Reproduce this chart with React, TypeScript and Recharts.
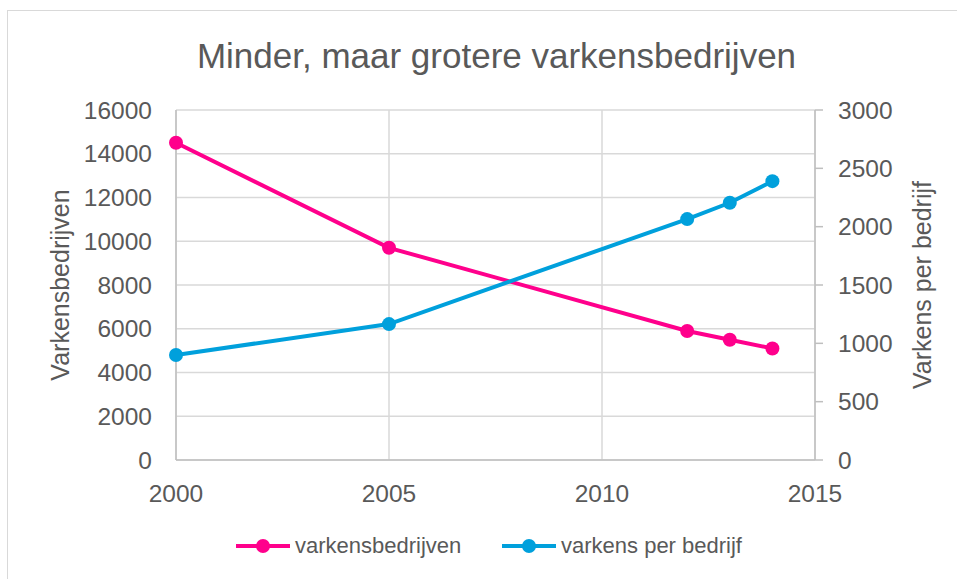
import { LineChart, Line, XAxis, YAxis, CartesianGrid } from "recharts";

const years = [2000, 2005, 2012, 2013, 2014];
const varkensbedrijven = [14500, 9700, 5900, 5500, 5100];
const varkensPerBedrijf = [900, 1165, 2065, 2205, 2390];

const xTicks = [2000, 2005, 2010, 2015];
const leftTicks = [0, 2000, 4000, 6000, 8000, 10000, 12000, 14000, 16000];
const rightTicks = [0, 500, 1000, 1500, 2000, 2500, 3000];

const PINK = "#ff008c";
const BLUE = "#00a0dc";
const TEXT = "#595959";
const FONT = '"Liberation Sans", Arial, sans-serif';

const data = years.map((year, i) => ({
  year,
  bedrijven: varkensbedrijven[i],
  perBedrijf: varkensPerBedrijf[i],
}));

const tickStyle = { fill: TEXT, fontSize: 24.5, fontFamily: FONT };

const LegendItem = ({ color, label, left }: { color: string; label: string; left: number }) => (
  <div
    style={{
      position: "absolute",
      left,
      top: 533,
      height: 26,
      display: "flex",
      alignItems: "center",
      fontFamily: FONT,
      fontSize: 22,
      lineHeight: "26px",
      color: TEXT,
      whiteSpace: "nowrap",
    }}
  >
    <svg width={54} height={20} style={{ marginRight: 5 }}>
      <line x1={0} y1={10} x2={54} y2={10} stroke={color} strokeWidth={4} />
      <circle cx={27} cy={10} r={7} fill={color} />
    </svg>
    <span>{label}</span>
  </div>
);

const App = () => {
  return (
    <div style={{ position: "absolute", left: 0, top: 0, width: 957, height: 579, background: "#fff", overflow: "hidden" }}>
      <div
        style={{
          position: "absolute",
          left: 7,
          top: 10,
          width: 970,
          height: 600,
          borderTop: "1px solid #d9d9d9",
          borderLeft: "1px solid #d9d9d9",
        }}
      />
      <div
        style={{
          position: "absolute",
          left: 18,
          top: 38,
          width: 957,
          textAlign: "center",
          fontFamily: FONT,
          fontSize: 35,
          lineHeight: "35px",
          color: TEXT,
          whiteSpace: "nowrap",
        }}
      >
        Minder, maar grotere varkensbedrijven
      </div>
      <div style={{ position: "absolute", left: 0, top: 0 }}>
        <LineChart width={957} height={579} data={data} margin={{ top: 110, right: 0, bottom: 79, left: 0 }}>
          <CartesianGrid yAxisId="left" stroke="#d9d9d9" strokeWidth={1.5} />
          <XAxis
            dataKey="year"
            type="number"
            domain={[2000, 2015]}
            ticks={xTicks}
            height={40}
            tickLine={false}
            tickSize={0}
            tickMargin={25}
            axisLine={{ stroke: "#bfbfbf", strokeWidth: 1.5 }}
            tick={tickStyle}
          />
          <YAxis
            yAxisId="left"
            domain={[0, 16000]}
            ticks={leftTicks}
            width={176}
            tickLine={false}
            tickSize={0}
            tickMargin={24}
            axisLine={{ stroke: "#bfbfbf", strokeWidth: 1.5 }}
            tick={tickStyle}
            label={{
              value: "Varkensbedrijven",
              angle: -90,
              position: "center",
              dx: -28,
              style: { fill: TEXT, fontSize: 25, fontFamily: FONT, textAnchor: "middle" },
            }}
          />
          <YAxis
            yAxisId="right"
            orientation="right"
            domain={[0, 3000]}
            ticks={rightTicks}
            width={142}
            tickSize={8}
            tickMargin={15}
            tickLine={{ stroke: "#bfbfbf", strokeWidth: 1.5 }}
            axisLine={{ stroke: "#bfbfbf", strokeWidth: 1.5 }}
            tick={tickStyle}
            label={{
              value: "Varkens per bedrijf",
              angle: -90,
              position: "center",
              dx: 36,
              style: { fill: TEXT, fontSize: 25, fontFamily: FONT, textAnchor: "middle" },
            }}
          />
          <Line
            yAxisId="left"
            type="linear"
            dataKey="bedrijven"
            name="varkensbedrijven"
            stroke={PINK}
            strokeWidth={4}
            dot={{ r: 7, fill: PINK, stroke: PINK, strokeWidth: 0 }}
            activeDot={false}
            isAnimationActive={false}
          />
          <Line
            yAxisId="right"
            type="linear"
            dataKey="perBedrijf"
            name="varkens per bedrijf"
            stroke={BLUE}
            strokeWidth={4}
            dot={{ r: 7, fill: BLUE, stroke: BLUE, strokeWidth: 0 }}
            activeDot={false}
            isAnimationActive={false}
          />
        </LineChart>
      </div>
      <LegendItem color={PINK} label="varkensbedrijven" left={236} />
      <LegendItem color={BLUE} label="varkens per bedrijf" left={502} />
    </div>
  );
};

export default App;
